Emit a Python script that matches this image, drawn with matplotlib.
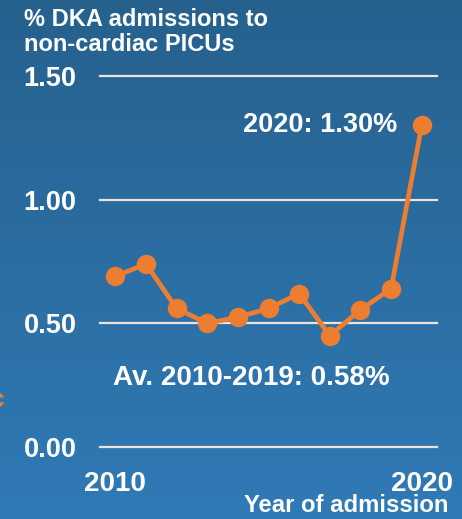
import numpy as np
import matplotlib
matplotlib.use("Agg")
from matplotlib import pyplot as plt

plt.rcParams['font.family'] = ['Liberation Sans', 'DejaVu Sans']

# data
years = [2010, 2011, 2012, 2013, 2014, 2015, 2016, 2017, 2018, 2019, 2020]
pct_dka = [0.69, 0.74, 0.56, 0.50, 0.525, 0.56, 0.62, 0.45, 0.555, 0.64, 1.30]
y_ticks = [0.0, 0.5, 1.0, 1.5]
x_ticks = [2010, 2020]

orange = '#ed7d31'
grid_col = '#ebe3dc'

fig = plt.figure(figsize=(4.62, 5.19), dpi=100)

# blue gradient background
bg = fig.add_axes([0, 0, 1, 1], zorder=-10)
top = np.array([38, 97, 142]) / 255
bot = np.array([48, 122, 182]) / 255
t = np.linspace(0, 1, 256)[:, None, None]
grad = top * (1 - t) + bot * t
grad = np.repeat(grad, 4, axis=1)
bg.imshow(grad, aspect='auto', extent=[0, 1, 0, 1])
bg.axis('off')

ax = fig.add_axes([0.2165, 0.1387, 0.7295, 0.7149])
ax.patch.set_alpha(0)
for s in ax.spines.values():
    s.set_visible(False)

for yv in y_ticks:
    ax.axhline(yv, color=grid_col, lw=1.6, zorder=1, clip_on=False)

ax.plot(years, pct_dka, color=orange, lw=3.4, marker='o', ms=13, zorder=3, clip_on=False)

ax.set_xlim(2009.5, 2020.5)
ax.set_ylim(0, 1.5)
ax.set_yticks(y_ticks)
ax.set_yticklabels([f'{v:.2f}' for v in y_ticks])
ax.set_xticks(x_ticks)
ax.tick_params(length=0, colors='white', labelsize=19.5)
ax.tick_params(axis='y', pad=17)
ax.tick_params(axis='x', pad=17, labelsize=20)
for lab in ax.get_xticklabels() + ax.get_yticklabels():
    lab.set_fontweight('bold')

ax.text(2019.2, 1.30, '2020: 1.30%', color='white', fontsize=19.5, fontweight='bold',
        ha='right', va='center')
ax.text(2014.45, 0.28, 'Av. 2010-2019: 0.58%', color='white', fontsize=20, fontweight='bold',
        ha='center', va='center')

fig.text(24 / 462, 1 - 8 / 519, '% DKA admissions to\nnon-cardiac PICUs', color='white',
         fontsize=17, fontweight='bold', ha='left', va='top', linespacing=1.1)
fig.text(448 / 462, 1 - 506 / 519, 'Year of admission', color='white', fontsize=17.2,
         fontweight='bold', ha='right', va='center')
# clipped orange letter at the left edge
fig.text(-3 / 462, 1 - 400 / 519, 'c', color=orange, fontsize=19, fontweight='bold',
         ha='center', va='center')

fig.savefig('out.png', dpi=100)
